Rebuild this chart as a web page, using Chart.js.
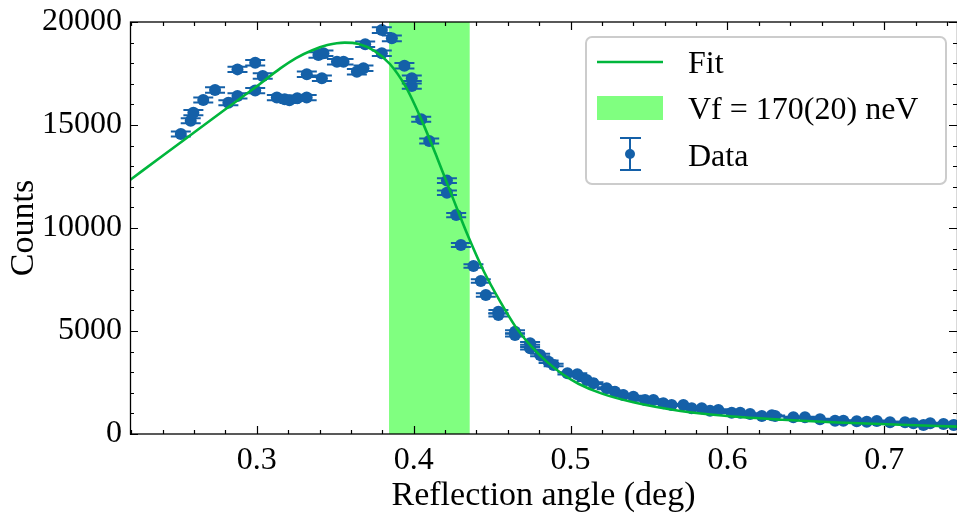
<!DOCTYPE html>
<html>
<head>
<meta charset="utf-8">
<script src="https://cdn.jsdelivr.net/npm/chart.js@4.4.0/dist/chart.umd.min.js"></script>
<style>
  html, body { margin: 0; padding: 0; background: #fff; overflow: hidden; }
  #wrap { width: 957px; height: 518px; }
</style>
</head>
<body>
<div id="wrap"><canvas id="reflChart" width="957" height="518"></canvas></div>
<script>
// Measured data points (angle in deg, counts) and their error bars
const dataX = [0.2516, 0.2579, 0.2596, 0.2659, 0.2734, 0.2819, 0.2877, 0.2877, 0.2990, 0.2990,
    0.3038, 0.3128, 0.3178, 0.3208, 0.3258, 0.3318, 0.3319, 0.3393, 0.3415, 0.3425,
    0.3511, 0.3553, 0.3638, 0.3680, 0.3691, 0.3797, 0.3797, 0.3861, 0.3941, 0.3988,
    0.3988, 0.4048, 0.4099, 0.4212, 0.4212, 0.4271, 0.4301, 0.4381, 0.4428, 0.4460,
    0.4540, 0.4540, 0.4646, 0.4646, 0.4742, 0.4742, 0.4806, 0.4860, 0.4892, 0.4980,
    0.5043, 0.5103, 0.5146, 0.5230, 0.5283, 0.5336, 0.5400, 0.5475, 0.5528, 0.5591,
    0.5644, 0.5719, 0.5772, 0.5836, 0.5889, 0.5942, 0.6027, 0.6081, 0.6144, 0.6219,
    0.6283, 0.6304, 0.6420, 0.6494, 0.6590, 0.6686, 0.6739, 0.6824, 0.6888, 0.6952,
    0.7036, 0.7132, 0.7185, 0.7249, 0.7292, 0.7377, 0.7441];
const dataY = [14563, 15210, 15600, 16214, 16700, 16080, 16410, 17700, 18020, 16670,
    17380, 16330, 16250, 16200, 16300, 16330, 17460, 18400, 17270, 18480,
    18070, 18070, 17590, 17750, 18920, 19610, 18480, 19210, 17880, 17270,
    16890, 15280, 14220, 12300, 11710, 10630, 9175, 8155, 7430, 6750,
    5937, 5776, 4966, 4800, 4400, 4160, 3835, 3510, 3350, 2946,
    2900, 2620, 2460, 2220, 2055, 1890, 1810, 1650, 1650, 1490,
    1408, 1408, 1247, 1247, 1131, 1165, 1034, 1034, 971, 874,
    906, 874, 810, 810, 712, 646, 646, 615, 597, 631,
    568, 568, 519, 437, 519, 485, 437];
const dataErr = [121, 123, 125, 127, 129, 127, 128, 133, 134, 129,
    132, 128, 127, 127, 128, 128, 132, 136, 131, 136,
    134, 134, 133, 133, 138, 140, 136, 139, 134, 131,
    130, 124, 119, 111, 108, 103, 96, 90, 86, 82,
    77, 76, 70, 69, 66, 64, 62, 59, 58, 54,
    54, 51, 50, 47, 45, 43, 43, 41, 41, 39,
    38, 38, 35, 35, 34, 34, 32, 32, 31, 30,
    30, 30, 28, 28, 27, 25, 25, 25, 24, 25,
    24, 24, 23, 21, 23, 22, 21];

// Fit curve
const fitX = [0.2192, 0.240, 0.260, 0.280, 0.300, 0.315, 0.325, 0.335, 0.345, 0.356,
    0.365, 0.375, 0.385, 0.395, 0.405, 0.415, 0.425, 0.435, 0.445, 0.455,
    0.465, 0.475, 0.485, 0.495, 0.505, 0.520, 0.540, 0.570, 0.600, 0.635,
    0.670, 0.710, 0.7463];
const fitY = [12330, 13505, 14635, 15765, 16880, 17750, 18250, 18620, 18880, 19000,
    18930, 18600, 17950, 16850, 15250, 13400, 11450, 9550, 7850, 6450,
    5200, 4250, 3500, 2900, 2440, 1960, 1540, 1120, 870, 690,
    560, 450, 360];

// Vf band limits (deg)
const bandLo = 0.3843;
const bandHi = 0.4357;

// Axes
const xRange = [0.2192, 0.7463];
const yRange = [0, 20000];
const xTicks = [0.3, 0.4, 0.5, 0.6, 0.7];
const yTicks = [0, 5000, 10000, 15000, 20000];

const legendLabels = ['Fit', 'Vf = 170(20) neV', 'Data'];

const FONT = "'Liberation Serif', 'DejaVu Serif', serif";
const BLUE = '#1460a8';
const GREEN = '#00b63c';
const BAND = '#80ff80';

const toPts = (xs, ys) => xs.map((x, i) => ({ x: x, y: ys[i] }));

// band + error bars under the datasets
const underlayPlugin = {
    id: 'underlay',
    beforeDatasetsDraw(chart) {
        const { ctx, chartArea, scales } = chart;
        const xs = scales.x, ys = scales.y;
        ctx.save();
        ctx.fillStyle = BAND;
        const b0 = xs.getPixelForValue(bandLo);
        const b1 = xs.getPixelForValue(bandHi);
        ctx.fillRect(b0, chartArea.top, b1 - b0, chartArea.bottom - chartArea.top);

        ctx.strokeStyle = BLUE;
        ctx.lineWidth = 2;
        const cap = 10;
        dataX.forEach((x, i) => {
            const px = xs.getPixelForValue(x);
            const top = ys.getPixelForValue(dataY[i] + dataErr[i]);
            const bot = ys.getPixelForValue(dataY[i] - dataErr[i]);
            ctx.beginPath();
            ctx.moveTo(px, top); ctx.lineTo(px, bot);
            ctx.moveTo(px - cap, top); ctx.lineTo(px + cap, top);
            ctx.moveTo(px - cap, bot); ctx.lineTo(px + cap, bot);
            ctx.stroke();
        });
        ctx.restore();
    }
};

// frame, inward ticks and legend
const frameTicksPlugin = {
    id: 'frameTicks',
    afterDraw(chart) {
        const { ctx, chartArea: a, scales } = chart;
        const xs = scales.x, ys = scales.y;
        ctx.save();
        ctx.strokeStyle = '#000';
        ctx.lineWidth = 1.3;
        ctx.strokeRect(a.left + 0.5, a.top, a.right - a.left, a.bottom - a.top);

        ctx.lineWidth = 1.2;
        ctx.beginPath();
        // x minor ticks every 0.02, majors every 0.1
        for (let k = 11; k <= 37; k++) {
            const v = k * 0.02;
            const px = Math.round(xs.getPixelForValue(v)) + 0.5;
            const len = (k % 5 === 0) ? 8 : 4;
            ctx.moveTo(px, a.bottom); ctx.lineTo(px, a.bottom - len);
            ctx.moveTo(px, a.top); ctx.lineTo(px, a.top + len);
        }
        // y minor ticks every 1000, majors every 5000
        for (let k = 0; k <= 20; k++) {
            const py = Math.round(ys.getPixelForValue(k * 1000)) + 0.5;
            const len = (k % 5 === 0) ? 8 : 4;
            ctx.moveTo(a.left, py); ctx.lineTo(a.left + len, py);
            ctx.moveTo(a.right, py); ctx.lineTo(a.right - len, py);
        }
        ctx.stroke();

        // legend box
        const lx = 586, ly = 37, lw = 360, lh = 147;
        ctx.fillStyle = 'rgba(255,255,255,0.85)';
        ctx.strokeStyle = '#cccccc';
        ctx.lineWidth = 2;
        ctx.beginPath();
        ctx.roundRect(lx, ly, lw, lh, 6);
        ctx.fill();
        ctx.stroke();

        // Fit entry
        ctx.strokeStyle = GREEN;
        ctx.lineWidth = 2.5;
        ctx.beginPath();
        ctx.moveTo(597, 62); ctx.lineTo(663, 62);
        ctx.stroke();
        // band entry
        ctx.fillStyle = BAND;
        ctx.fillRect(597, 96, 66, 24);
        // data entry
        ctx.strokeStyle = BLUE;
        ctx.lineWidth = 2;
        ctx.beginPath();
        ctx.moveTo(630, 138); ctx.lineTo(630, 170);
        ctx.moveTo(620, 138); ctx.lineTo(641, 138);
        ctx.moveTo(620, 170); ctx.lineTo(641, 170);
        ctx.stroke();
        ctx.fillStyle = BLUE;
        ctx.beginPath();
        ctx.arc(630, 154, 5, 0, Math.PI * 2);
        ctx.fill();

        ctx.fillStyle = '#000';
        ctx.font = '32px ' + FONT;
        ctx.textBaseline = 'alphabetic';
        ctx.textAlign = 'left';
        ctx.fillText(legendLabels[0], 688, 73);
        ctx.fillText(legendLabels[1], 688, 119);
        ctx.fillText(legendLabels[2], 688, 166);
        ctx.restore();
    }
};

const ctx = document.getElementById('reflChart').getContext('2d');

const chart = new Chart(ctx, {
    type: 'scatter',
    data: {
        datasets: [
            {
                label: legendLabels[0],
                type: 'line',
                data: toPts(fitX, fitY),
                borderColor: GREEN,
                borderWidth: 2.6,
                pointRadius: 0,
                fill: false,
                cubicInterpolationMode: 'monotone',
                order: 0
            },
            {
                label: legendLabels[2],
                data: toPts(dataX, dataY),
                backgroundColor: BLUE,
                borderColor: BLUE,
                pointRadius: 6,
                pointBorderWidth: 0,
                order: 1
            }
        ]
    },
    options: {
        responsive: false,
        animation: false,
        devicePixelRatio: 1,
        layout: { autoPadding: false, padding: { top: 22, right: 0, left: 0, bottom: 0 } },
        plugins: {
            legend: { display: false },
            tooltip: { enabled: false }
        },
        scales: {
            x: {
                type: 'linear',
                min: xRange[0],
                max: xRange[1],
                afterBuildTicks: (s) => { s.ticks = xTicks.map(v => ({ value: v })); },
                afterFit: (s) => { s.height = 84; s.paddingLeft = 0; s.paddingRight = 0; },
                ticks: {
                    color: '#000',
                    font: { family: FONT, size: 32 },
                    padding: 7,
                    maxRotation: 0,
                    callback: (v) => v.toFixed(1)
                },
                grid: { display: false, drawTicks: false },
                border: { display: false },
                title: {
                    display: true,
                    text: 'Reflection angle (deg)',
                    color: '#000',
                    font: { family: FONT, size: 34 },
                    padding: { top: 0, bottom: 2 }
                }
            },
            y: {
                type: 'linear',
                min: yRange[0],
                max: yRange[1],
                afterBuildTicks: (s) => { s.ticks = yTicks.map(v => ({ value: v })); },
                afterFit: (s) => { s.width = 130; s.paddingTop = 0; s.paddingBottom = 0; },
                ticks: {
                    color: '#000',
                    font: { family: FONT, size: 32 },
                    padding: 8,
                    callback: (v) => String(v)
                },
                grid: { display: false, drawTicks: false },
                border: { display: false },
                title: {
                    display: true,
                    text: 'Counts',
                    color: '#000',
                    font: { family: FONT, size: 34 },
                    padding: { top: 4, bottom: 0 }
                }
            }
        }
    },
    plugins: [underlayPlugin, frameTicksPlugin]
});
</script>
</body>
</html>
